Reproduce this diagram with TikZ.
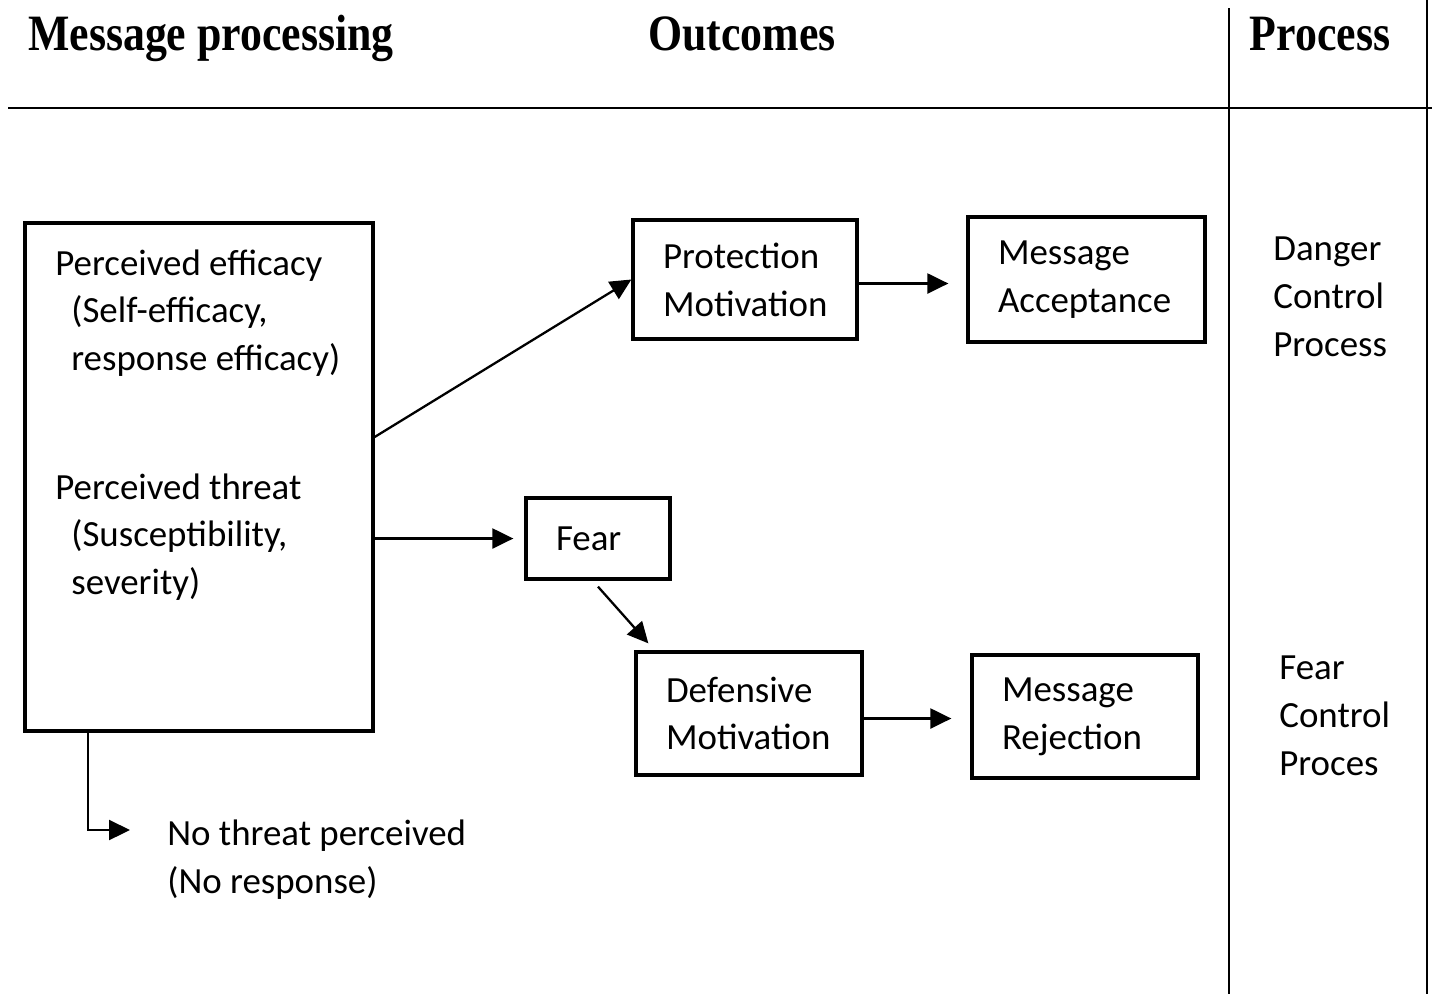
\documentclass[tikz,border=0pt]{standalone}
\usepackage{fontspec}
\setmainfont{Carlito}
\newfontfamily\headfont{Liberation Serif}[FakeStretch=0.86]
\usetikzlibrary{arrows.meta}
\begin{document}
\begin{tikzpicture}[x=0.02cm, y=-0.02cm,
  font=\fontsize{21}{27.2}\selectfont,
  box/.style={draw, line width=1.9pt, inner xsep=0.6cm, align=left},
  arr/.style={-{Triangle[length=0.42cm, width=0.4cm]}, line width=1.3pt},
  head/.style={anchor=base, font=\headfont\bfseries\fontsize{29}{34}\selectfont},
  txt/.style={anchor=west, inner sep=0pt, align=left}]
\useasboundingbox (0,0) rectangle (1432,994);
% table lines
\draw[line width=1.5pt] (8,108) -- (1432,108);
\draw[line width=1.1pt] (1229,8) -- (1229,994);
\draw[line width=1.1pt] (1427,0) -- (1427,994);
\foreach \n/\x/\t in {hmp/211/Message processing, hout/742/Outcomes, hproc/1320/Process}
  \node[head] (\n) at (\x,50) {\t};
% message processing
\node[draw, line width=1.9pt, minimum width=6.96cm, minimum height=10.16cm] (msgbox) at (199,477) {};
\node[txt] (effic) at (55,313) {Perceived efficacy\\\hspace*{0.32cm}(Self-efficacy,\\\hspace*{0.32cm}response efficacy)};
\node[txt] (threat) at (55,537) {Perceived threat\\\hspace*{0.32cm}(Susceptibility,\\\hspace*{0.32cm}severity)};
\node[txt] (nothr) at (167,860) {No threat perceived\\(No response)};
\coordinate (ntend) at (130,830);
% outcomes
\node[box, text width=3.28cm, minimum height=2.38cm] (protm) at (745,279.5) {Protection\\Motivation};
\node[box, text width=3.54cm, minimum height=2.5cm] (msga) at (1086.5,279.5) {Message\\Acceptance};
\node[box, text width=1.68cm, minimum height=1.62cm] (fear) at (598,538.5) {Fear};
\node[box, text width=3.32cm, minimum height=2.46cm] (defm) at (749,713.5) {Defensive\\Motivation};
\node[box, text width=3.32cm, minimum height=2.46cm] (msgr) at (1085,716.5) {Message\\Rejection};
% process
\node[txt] (dcp) at (1273,297) {Danger\\Control\\Process};
\node[txt] (fcp) at (1279,716) {Fear\\Control\\Proces};
% arrows
\draw[arr] ([yshift=0.8cm]msgbox.east) -- (protm.west);
\draw[arr, shorten >=0.22cm] (msgbox.east |- fear.west) -- (fear.west);
\draw[arr, shorten >=0.36cm] ([yshift=-0.08cm]protm.east) -- ([yshift=-0.08cm]protm.east -| msga.west);
\draw[arr] ([yshift=-0.12cm]fear.south) -- ([shift={(0.28cm,0.14cm)}]defm.north west);
\draw[arr, shorten >=0.38cm] ([yshift=-0.1cm]defm.east) -- ([yshift=-0.1cm]defm.east -| msgr.west);
\draw[arr] ([xshift=1.3cm]msgbox.south west) |- (ntend);
\end{tikzpicture}
\end{document}
